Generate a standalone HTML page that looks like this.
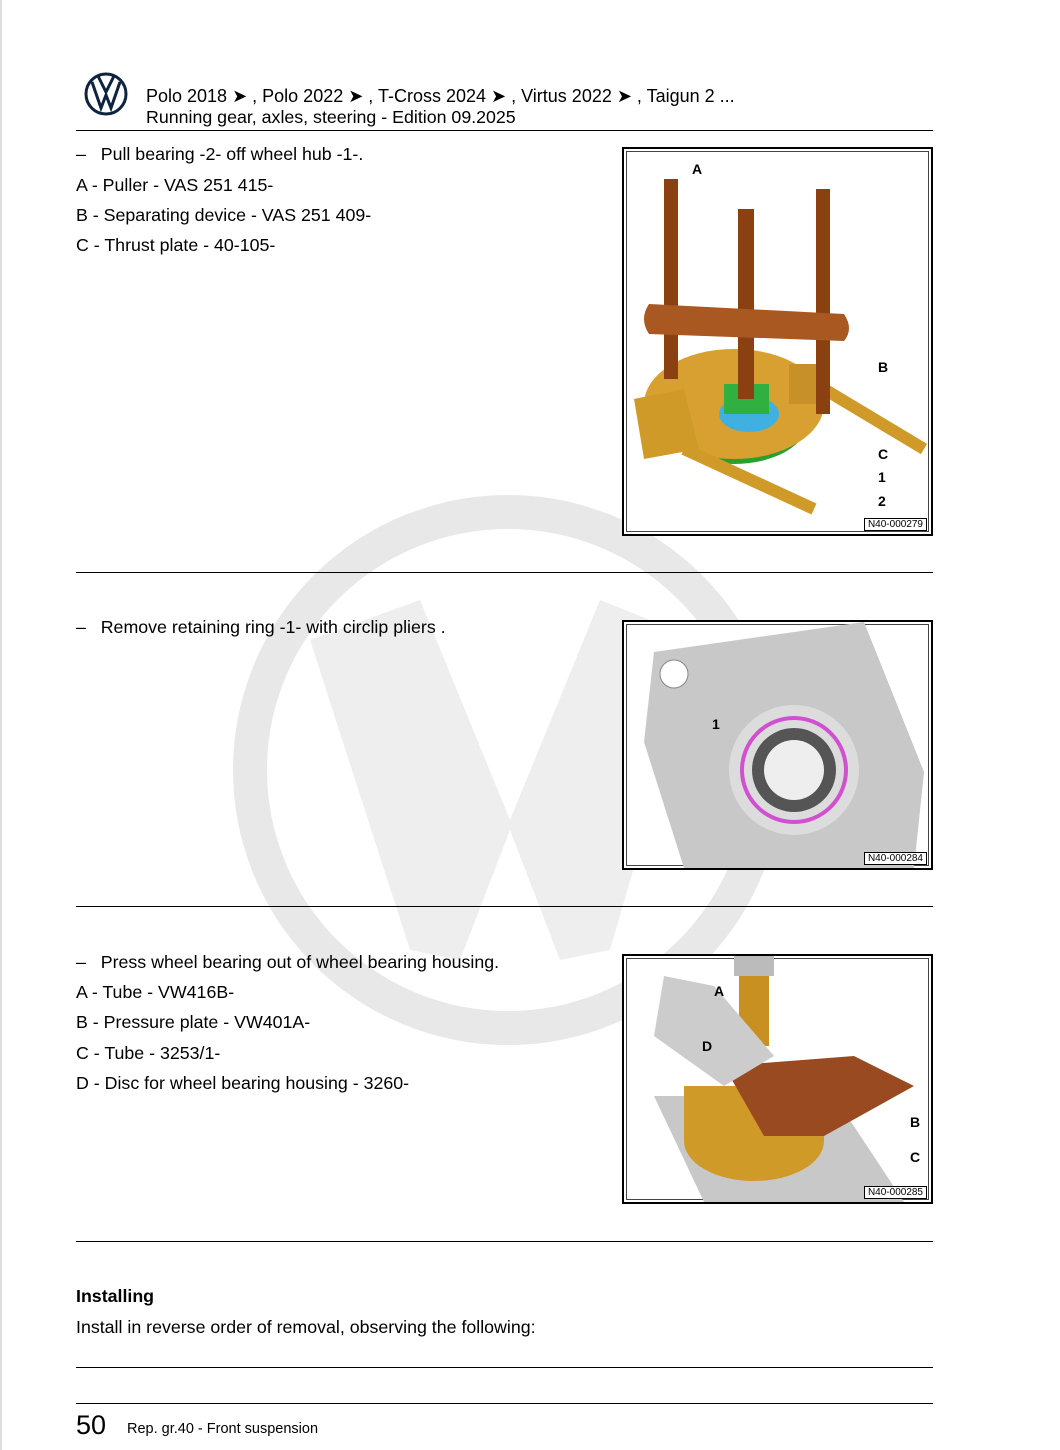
<!DOCTYPE html>
<html><head><meta charset="utf-8"><style>
body{margin:0;width:1060px;height:1450px;background:#fff;position:relative;overflow:hidden;font-family:"Liberation Sans",sans-serif;color:#000}
.t{position:absolute;font-size:17.8px;white-space:nowrap;line-height:20px}
.hr{position:absolute;left:76px;width:857px;height:1px;background:#000}
.box{position:absolute;left:622px;width:307px;border:2px solid #000;background:#fff}
.box .in{position:absolute;inset:2px;border:1px solid #444}
.lab{position:absolute;right:4px;bottom:3px;border:1px solid #000;font-size:10px;padding:0 3px;background:#fff}
svg{position:absolute;left:0;top:0}
</style></head><body>
<div style="position:absolute;left:0;top:0;width:2px;height:1450px;background:#ddd"></div>
<svg width="1060" height="1450">
<circle cx="508" cy="770" r="258" fill="none" stroke="#e8e8e8" stroke-width="34"/>
<path d="M310 640 L420 600 L510 820 L600 600 L700 640 L610 950 L560 960 L510 830 L460 960 L410 950 Z" fill="#eeeeee"/>
</svg>
<svg width="60" height="60" style="left:82px;top:68px" viewBox="0 0 60 60">
<circle cx="24" cy="26" r="20" fill="none" stroke="#0d2340" stroke-width="3"/>
<path d="M10 14 L19 40 L24 27 L29 40 L38 14" fill="none" stroke="#0d2340" stroke-width="3"/>
<path d="M16 8 L24 24 L32 8" fill="none" stroke="#0d2340" stroke-width="3"/>
</svg>
<div class="t" style="left:146px;top:86px;font-size:18px">Polo 2018 ➤ , Polo 2022 ➤ , T-Cross 2024 ➤ , Virtus 2022 ➤ , Taigun 2 ...</div>
<div class="t" style="left:146px;top:107px;font-size:17.8px">Running gear, axles, steering - Edition 09.2025</div>
<div class="hr" style="top:130px"></div>

<div class="t" style="left:76px;top:144px">–&nbsp;&nbsp;&nbsp;Pull bearing -2- off wheel hub -1-.</div>
<div class="t" style="left:76px;top:175px">A - Puller - VAS 251 415-</div>
<div class="t" style="left:76px;top:205px">B - Separating device - VAS 251 409-</div>
<div class="t" style="left:76px;top:235px">C - Thrust plate - 40-105-</div>

<div class="box" style="top:147px;height:385px"><div class="in"></div>
<svg width="307" height="385">
<ellipse cx="110" cy="270" rx="75" ry="45" fill="#28a030"/>
<ellipse cx="110" cy="255" rx="90" ry="55" fill="#d8a030"/>
<ellipse cx="125" cy="265" rx="30" ry="18" fill="#40b0e0"/>
<rect x="100" y="235" width="45" height="30" fill="#30b040"/>
<path d="M10 250 L60 240 L75 300 L20 310 Z" fill="#d09a28"/>
<path d="M60 300 L190 360" stroke="#d09a28" stroke-width="12"/>
<path d="M200 240 L300 300" stroke="#d09a28" stroke-width="12"/>
<rect x="165" y="215" width="40" height="40" fill="#c89028"/>
<rect x="40" y="30" width="14" height="200" fill="#8a4010"/>
<rect x="192" y="40" width="14" height="225" fill="#8a4010"/>
<rect x="114" y="60" width="16" height="190" fill="#8a4010"/>
<path d="M25 155 L220 165 Q230 180 220 192 L25 185 Q15 170 25 155Z" fill="#a85820"/>
</svg>
<div style="position:absolute;left:68px;top:12px;font:bold 14px 'Liberation Sans'">A</div>
<div style="position:absolute;left:254px;top:210px;font:bold 14px 'Liberation Sans'">B</div>
<div style="position:absolute;left:254px;top:297px;font:bold 14px 'Liberation Sans'">C</div>
<div style="position:absolute;left:254px;top:320px;font:bold 14px 'Liberation Sans'">1</div>
<div style="position:absolute;left:254px;top:344px;font:bold 14px 'Liberation Sans'">2</div>
<div class="lab">N40-000279</div></div>

<div class="hr" style="top:572px"></div>
<div class="t" style="left:76px;top:617px">–&nbsp;&nbsp;&nbsp;Remove retaining ring -1- with circlip pliers .</div>
<div class="box" style="top:620px;height:246px"><div class="in"></div>
<svg width="307" height="246">
<path d="M30 30 L240 0 L300 150 L290 246 L60 246 L20 120 Z" fill="#c8c8c8"/>
<circle cx="170" cy="148" r="65" fill="#dcdcdc"/>
<circle cx="170" cy="148" r="52" fill="none" stroke="#d050d0" stroke-width="4"/>
<circle cx="170" cy="148" r="42" fill="#555"/>
<circle cx="170" cy="148" r="30" fill="#eee"/>
<circle cx="50" cy="52" r="14" fill="#fff" stroke="#888"/>
</svg>
<div style="position:absolute;left:88px;top:94px;font:bold 14px 'Liberation Sans'">1</div>
<div class="lab">N40-000284</div></div>

<div class="hr" style="top:906px"></div>
<div class="t" style="left:76px;top:952px">–&nbsp;&nbsp;&nbsp;Press wheel bearing out of wheel bearing housing.</div>
<div class="t" style="left:76px;top:982px">A - Tube - VW416B-</div>
<div class="t" style="left:76px;top:1012px">B - Pressure plate - VW401A-</div>
<div class="t" style="left:76px;top:1043px">C - Tube - 3253/1-</div>
<div class="t" style="left:76px;top:1073px">D - Disc for wheel bearing housing - 3260-</div>
<div class="box" style="top:954px;height:246px"><div class="in"></div>
<svg width="307" height="246">
<path d="M30 140 L210 140 L280 246 L80 246 Z" fill="#c8c8c8"/>
<ellipse cx="130" cy="185" rx="70" ry="40" fill="#d09a28"/>
<rect x="60" y="130" width="140" height="55" fill="#d09a28"/>
<path d="M100 110 L230 100 L290 130 L200 180 L140 180 Z" fill="#9a4a20"/>
<rect x="115" y="20" width="30" height="70" fill="#c89020"/>
<rect x="110" y="0" width="40" height="20" fill="#bbb"/>
<path d="M40 20 L90 30 L150 100 L100 130 L30 80 Z" fill="#ccc"/>
</svg>
<div style="position:absolute;left:90px;top:27px;font:bold 14px 'Liberation Sans'">A</div>
<div style="position:absolute;left:78px;top:82px;font:bold 14px 'Liberation Sans'">D</div>
<div style="position:absolute;left:286px;top:158px;font:bold 14px 'Liberation Sans'">B</div>
<div style="position:absolute;left:286px;top:193px;font:bold 14px 'Liberation Sans'">C</div>
<div class="lab">N40-000285</div></div>

<div class="hr" style="top:1241px"></div>
<div class="t" style="left:76px;top:1286px;font-weight:bold">Installing</div>
<div class="t" style="left:76px;top:1317px">Install in reverse order of removal, observing the following:</div>
<div class="hr" style="top:1367px"></div>
<div class="hr" style="top:1403px"></div>
<div class="t" style="left:76px;top:1410px;font-size:27px;line-height:30px">50</div>
<div class="t" style="left:127px;top:1419px;font-size:14.5px">Rep. gr.40 - Front suspension</div>
</body></html>
